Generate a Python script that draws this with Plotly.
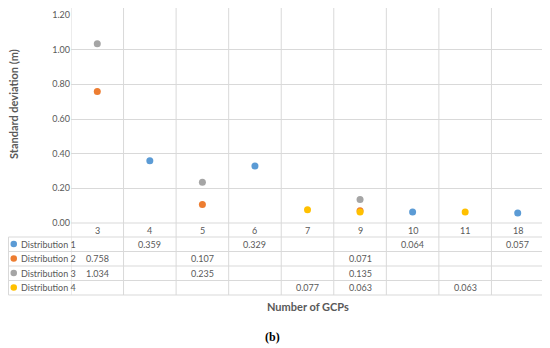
import plotly.graph_objects as go

categories = ["3", "4", "5", "6", "7", "9", "10", "11", "18"]
series_names = ["Distribution 1", "Distribution 2", "Distribution 3", "Distribution 4"]
dist1 = [None, 0.359, None, 0.329, None, None, 0.064, None, 0.057]
dist2 = [0.758, None, 0.107, None, None, 0.071, None, None, None]
dist3 = [1.034, None, 0.235, None, None, 0.135, None, None, None]
dist4 = [None, None, None, None, 0.077, 0.063, None, 0.063, None]
y_ticks = [0.0, 0.2, 0.4, 0.6, 0.8, 1.0, 1.2]
colors = ["#5B9BD5", "#ED7D31", "#A5A5A5", "#FFC000"]
series = [dist1, dist2, dist3, dist4]

# page body has a default 8px margin; the figure starts at (8, 8)
OFF = 8
W, H = 550 - OFF, 348 - OFF
L, R, T, B = 71, 544, 15, 223  # plot area in window pixels


def py(p):
    return 1 - (max(p, OFF) - OFF) / H


def px(p):
    return (max(p, OFF) - OFF) / W


GRID = "#D9D9D9"
TXT = "#595959"
FONT = "Lato"

fig = go.Figure()
xs = list(range(len(categories)))
for name, vals, c in zip(series_names, series, colors):
    pts = [(i, v) for i, v in zip(xs, vals) if v is not None]
    fig.add_trace(go.Scatter(
        x=[p[0] for p in pts], y=[p[1] for p in pts], mode="markers", name=name,
        marker=dict(color=c, size=7), showlegend=False, hoverinfo="skip"))

shapes = []
for k in range(len(categories) + 1):
    shapes.append(dict(type="line", xref="x", yref="paper", x0=k - 0.5, x1=k - 0.5,
                       y0=py(295), y1=py(5), line=dict(color=GRID, width=1), layer="below"))
shapes.append(dict(type="line", xref="paper", yref="paper", x0=px(L), x1=px(R), y0=py(223), y1=py(223),
                   line=dict(color=GRID, width=1), layer="below"))
for yy in [237, 251.5, 266, 280.5, 295]:
    shapes.append(dict(type="line", xref="paper", yref="paper", x0=px(8.5), x1=px(R), y0=py(yy), y1=py(yy),
                       line=dict(color=GRID, width=1), layer="below"))
shapes.append(dict(type="line", xref="paper", yref="paper", x0=px(8.5), x1=px(8.5), y0=py(237), y1=py(295),
                   line=dict(color=GRID, width=1), layer="below"))


def ann(x, y, text, xref="paper", xanchor="center", size=9, family=FONT, color=TXT, **kw):
    return dict(x=x, y=y, xref=xref, yref="paper", text=text, showarrow=False,
                xanchor=xanchor, yanchor="middle", font=dict(family=family, size=size, color=color), **kw)


annotations = []
for i, c in enumerate(categories):
    annotations.append(ann(i, py(230), c, xref="x"))
row_y = [244, 258.5, 273, 287.5]
for r, (name, vals, c) in enumerate(zip(series_names, series, colors)):
    yy = row_y[r]
    shapes.append(dict(type="circle", xref="paper", yref="paper",
                       x0=px(10.5), x1=px(17), y0=py(yy + 3.25), y1=py(yy - 3.25),
                       fillcolor=c, line=dict(width=0)))
    annotations.append(ann(px(18.5), py(yy), name, xanchor="left"))
    for i, v in enumerate(vals):
        if v is not None:
            annotations.append(ann(i, py(yy), f"{v:.3f}", xref="x"))

annotations.append(ann(px((L + R) / 2), py(306), "<b>Number of GCPs</b>", size=11))
annotations.append(ann(px(13), py(104), "<b>Standard deviation (m)</b>", size=11, textangle=-90))
annotations.append(ann(px(272), py(337), "<b>(b)</b>", size=12, family="Liberation Serif", color="#000000"))

fig.update_layout(
    width=W, height=H, margin=dict(l=0, r=0, t=0, b=0, pad=0, autoexpand=False),
    paper_bgcolor="white", plot_bgcolor="white",
    shapes=shapes, annotations=annotations,
    xaxis=dict(domain=[px(L), px(R)], range=[-0.5, len(categories) - 0.5], autorange=False,
               showticklabels=False, showgrid=False, automargin=False,
               zeroline=False, showline=False, ticks=""),
    yaxis=dict(domain=[py(B), py(T)], range=[0, 1.2], autorange=False, automargin=False,
               tickvals=y_ticks, tickformat=".2f", showgrid=True, gridcolor=GRID,
               gridwidth=1, zeroline=False, showline=False, ticks="", ticklen=0,
               tickfont=dict(family=FONT, size=9, color=TXT)),
)
fig.write_html("out.html")
